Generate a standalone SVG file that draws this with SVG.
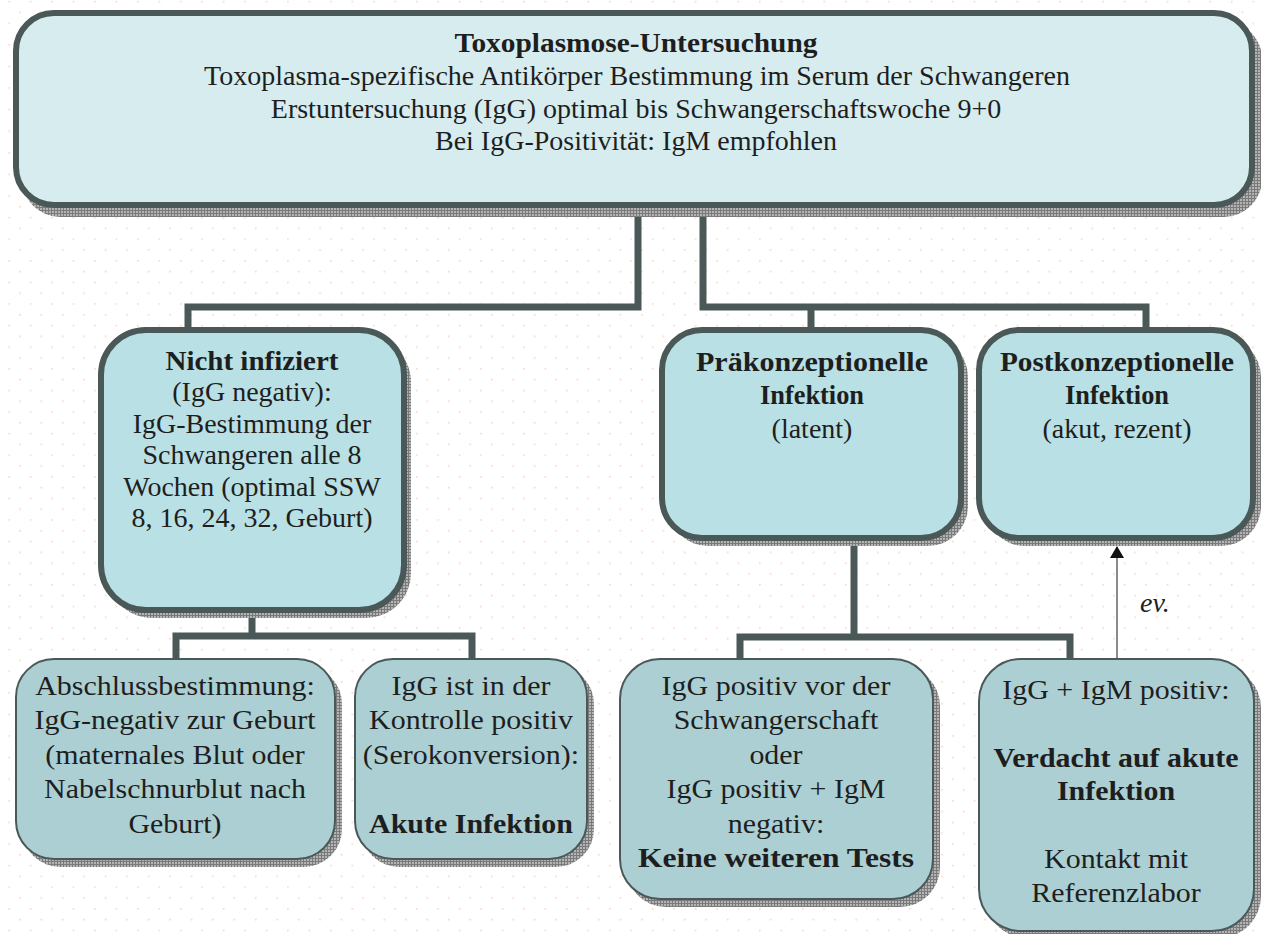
<svg xmlns="http://www.w3.org/2000/svg" width="1261" height="934" viewBox="0 0 1261 934">
<defs>
<pattern id="dots" x="8.3" y="0.8" width="21.45" height="21.6" patternUnits="userSpaceOnUse">
<circle cx="0.8" cy="0.8" r="1" fill="#fbd8c4"/>
<circle cx="11.5" cy="11.6" r="1" fill="#fbd8c4"/>
</pattern>
<pattern id="shade" width="3" height="3" patternUnits="userSpaceOnUse">
<rect width="3" height="3" fill="#b4b4b4"/>
<rect width="1" height="3" fill="#7a7a7a"/>
<rect width="3" height="1" fill="#7a7a7a"/>
</pattern>
<marker id="arr" markerWidth="12" markerHeight="14" refX="11" refY="7" orient="auto" markerUnits="userSpaceOnUse" viewBox="0 0 12 14">
<path d="M0 0 L12 7 L0 14 Z" fill="#111"/>
</marker>
</defs>
<style>
.t{font-family:"Liberation Serif","Times New Roman",serif;font-size:28px;fill:#1e1e1e;text-anchor:middle}
.b{font-weight:bold}
.shadow{fill:url(#shade)}
.l1{fill:#d6ecef;stroke:#4a5858;stroke-width:6}
.l2{fill:#b9e0e4;stroke:#4a5858;stroke-width:6}
.l3{fill:#accfd3;stroke:#4a5858;stroke-width:2}
.con{fill:none;stroke:#4a5858;stroke-width:7;stroke-linejoin:miter}
</style>
<rect width="1261" height="934" fill="#ffffff"/>
<rect width="1261" height="934" fill="url(#dots)"/>

<g id="connectors">
<path class="con" d="M638 207 V307 H188 V330"/>
<path class="con" d="M703 207 V307 H1146 V330"/>
<path class="con" d="M811 307 V330"/>
<path class="con" d="M252 612 V636"/>
<path class="con" d="M176 659 V636 H472 V659"/>
<path class="con" d="M854 540 V637"/>
<path class="con" d="M740 659 V637 H1070 V659"/>
<path d="M1117 659 V547" fill="none" stroke="#8a8a8a" stroke-width="2" marker-end="url(#arr)"/>
<text class="t" x="1140" y="612" style="font-style:italic;text-anchor:start">ev.</text>
</g>

<g id="node-top">
<rect class="shadow" x="22" y="21" width="1240" height="196" rx="38"/>
<rect class="l1" x="16" y="13" width="1236" height="192" rx="38"/>
<text class="t b" x="636" y="52" textLength="363" lengthAdjust="spacingAndGlyphs">Toxoplasmose-Untersuchung</text>
<text class="t" x="637" y="85">Toxoplasma-spezifische Antikörper Bestimmung im Serum der Schwangeren</text>
<text class="t" x="636" y="118">Erstuntersuchung (IgG) optimal bis Schwangerschaftswoche 9+0</text>
<text class="t" x="636" y="150">Bei IgG-Positivität: IgM empfohlen</text>
</g>

<g id="node-nicht-infiziert">
<rect class="shadow" x="107" y="337" width="304" height="281" rx="45"/>
<rect class="l2" x="101" y="330" width="303" height="280" rx="45"/>
<text class="t b" x="252" y="370" textLength="173" lengthAdjust="spacingAndGlyphs">Nicht infiziert</text>
<text class="t" x="252" y="401">(IgG negativ):</text>
<text class="t" x="252" y="433">IgG-Bestimmung der</text>
<text class="t" x="252" y="464">Schwangeren alle 8</text>
<text class="t" x="252" y="496">Wochen (optimal SSW</text>
<text class="t" x="252" y="527">8, 16, 24, 32, Geburt)</text>
</g>

<g id="node-praekonzeptionell">
<rect class="shadow" x="668" y="337" width="300" height="209" rx="40"/>
<rect class="l2" x="662" y="330" width="299" height="208" rx="40"/>
<text class="t b" x="812" y="371" textLength="232" lengthAdjust="spacingAndGlyphs">Präkonzeptionelle</text>
<text class="t b" x="812" y="404" textLength="104" lengthAdjust="spacingAndGlyphs">Infektion</text>
<text class="t" x="812" y="438">(latent)</text>
</g>

<g id="node-postkonzeptionell">
<rect class="shadow" x="985" y="337" width="276" height="209" rx="40"/>
<rect class="l2" x="979" y="330" width="274" height="208" rx="40"/>
<text class="t b" x="1117" y="371" textLength="234" lengthAdjust="spacingAndGlyphs">Postkonzeptionelle</text>
<text class="t b" x="1117" y="404" textLength="104" lengthAdjust="spacingAndGlyphs">Infektion</text>
<text class="t" x="1117" y="438">(akut, rezent)</text>
</g>

<g id="node-abschluss">
<rect class="shadow" x="22" y="666" width="320" height="201" rx="38"/>
<rect class="l3" x="16" y="659" width="319" height="200" rx="38"/>
<g transform="matrix(1.07,0,0,1,-12.25,0)">
<text class="t" x="175" y="695">Abschlussbestimmung:</text>
<text class="t" x="175" y="729">IgG-negativ zur Geburt</text>
<text class="t" x="175" y="764">(maternales Blut oder</text>
<text class="t" x="175" y="798">Nabelschnurblut nach</text>
<text class="t" x="175" y="833">Geburt)</text>
</g>
</g>

<g id="node-serokonversion">
<rect class="shadow" x="361" y="666" width="233" height="201" rx="38"/>
<rect class="l3" x="355" y="659" width="232" height="200" rx="38"/>
<g transform="matrix(1.07,0,0,1,-32.97,0)">
<text class="t" x="471" y="695">IgG ist in der</text>
<text class="t" x="471" y="729">Kontrolle positiv</text>
<text class="t" x="471" y="764">(Serokonversion):</text>
<text class="t b" x="471" y="833">Akute Infektion</text>
</g>
</g>

<g id="node-keine-tests">
<rect class="shadow" x="626" y="666" width="314" height="241" rx="40"/>
<rect class="l3" x="620" y="659" width="313" height="240" rx="40"/>
<g transform="matrix(1.07,0,0,1,-54.32,0)">
<text class="t" x="776" y="695">IgG positiv vor der</text>
<text class="t" x="776" y="729">Schwangerschaft</text>
<text class="t" x="776" y="764">oder</text>
<text class="t" x="776" y="798">IgG positiv + IgM</text>
<text class="t" x="776" y="833">negativ:</text>
<text class="t b" x="776" y="867" textLength="258" lengthAdjust="spacingAndGlyphs">Keine weiteren Tests</text>
</g>
</g>

<g id="node-verdacht">
<rect class="shadow" x="985" y="666" width="276" height="272" rx="42"/>
<rect class="l3" x="979" y="659" width="275" height="272" rx="42"/>
<g transform="matrix(1.07,0,0,1,-78.12,0)">
<text class="t" x="1116" y="699">IgG + IgM positiv:</text>
<text class="t b" x="1116" y="767">Verdacht auf akute</text>
<text class="t b" x="1116" y="800">Infektion</text>
<text class="t" x="1116" y="868">Kontakt mit</text>
<text class="t" x="1116" y="902">Referenzlabor</text>
</g>
</g>
</svg>
